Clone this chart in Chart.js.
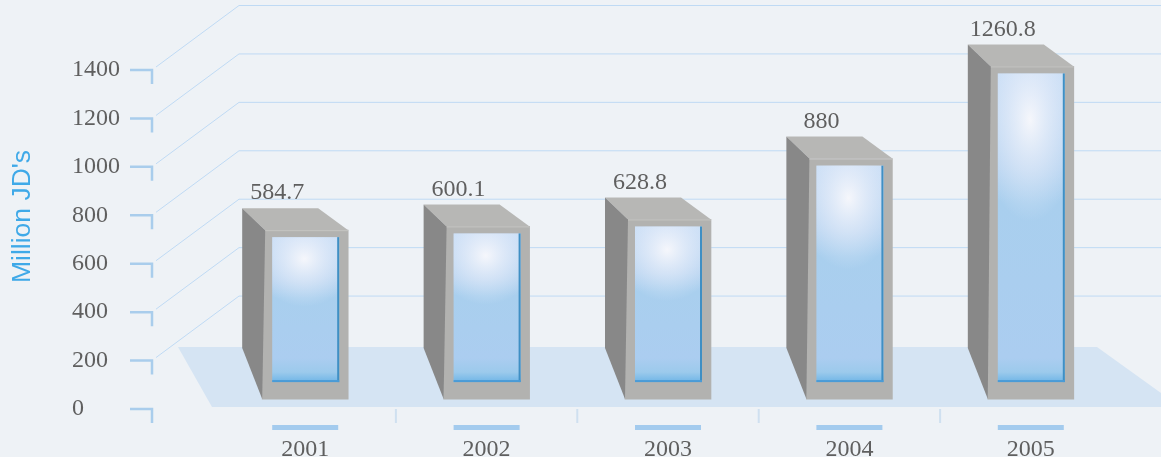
<!DOCTYPE html>
<html>
<head>
<meta charset="utf-8">
<script src="https://cdn.jsdelivr.net/npm/chart.js@4"></script>
<style>
html, body { margin: 0; padding: 0; background: #eef2f6; overflow: hidden; }
canvas { display: block; }
</style>
</head>
<body>
<canvas id="c" width="1161" height="457"></canvas>
<script>
const years = ['2001', '2002', '2003', '2004', '2005']
const values = [584.7, 600.1, 628.8, 880, 1260.8]
const yTitle = "Million JD's"

const serif = '"Liberation Serif", serif'
const textColor = '#5f5f5f'
const paleBlue = '#a9cdec'
const gridBlue = '#bfdaf4'

function poly(ctx, pts, fill) {
    ctx.beginPath()
    ctx.moveTo(pts[0][0], pts[0][1])
    for (let p of pts.slice(1)) ctx.lineTo(p[0], p[1])
    ctx.closePath()
    ctx.fillStyle = fill
    ctx.fill()
}

// floor, depth grid, axis hooks, separators and the axis title sit behind the bars
const backdrop = {
    id: 'backdrop',
    beforeDatasetsDraw(chart) {
        const ctx = chart.ctx, y = chart.scales.y, x = chart.scales.x
        const w = chart.width
        const floorTop = y.getPixelForValue(0) - 62
        const floorBottom = y.getPixelForValue(0) - 2
        poly(ctx, [[178, floorTop], [1097, floorTop], [w, floorTop + 46], [w, floorBottom], [212, floorBottom]], '#d5e4f3')

        y.ticks.forEach(t => {
            const py = y.getPixelForValue(t.value)
            ctx.strokeStyle = paleBlue
            ctx.lineWidth = 2.5
            ctx.beginPath()
            ctx.moveTo(130, py)
            ctx.lineTo(152, py)
            ctx.lineTo(152, py + 14)
            ctx.stroke()
            if (t.value === 0) return
            ctx.strokeStyle = gridBlue
            ctx.lineWidth = 1
            ctx.beginPath()
            ctx.moveTo(156, py - 3)
            ctx.lineTo(239, py - 64.5)
            ctx.lineTo(w, py - 64.5)
            ctx.stroke()
        })

        ctx.fillStyle = '#cfe0f0'
        for (let i = 1; i < years.length; i++) {
            const sx = (x.getPixelForValue(i - 1) + x.getPixelForValue(i)) / 2
            ctx.fillRect(sx - 1, 409, 2, 14)
        }

        ctx.save()
        ctx.translate(30, 216.5)
        ctx.rotate(-Math.PI / 2)
        ctx.font = '26.5px "Liberation Sans", sans-serif'
        ctx.fillStyle = '#3fa9e8'
        ctx.textAlign = 'center'
        ctx.textBaseline = 'alphabetic'
        ctx.fillText(yTitle, 0, 0)
        ctx.restore()
    }
}

function glass(ctx, l, t, r, b) {
    const wd = r - l, ht = b - t
    const g = ctx.createLinearGradient(0, t, 0, b)
    g.addColorStop(0, '#c6dcf5')
    g.addColorStop(0.3, '#b6d3f0')
    g.addColorStop(0.42, '#a9cfee')
    g.addColorStop(1 - 24 / ht, '#abcdf0')
    g.addColorStop(1 - 10 / ht, '#9ccaec')
    g.addColorStop(1, '#6fb5e6')
    ctx.fillStyle = g
    ctx.fillRect(l, t, wd, ht)

    // soft highlight high up in the pane
    ctx.save()
    ctx.beginPath()
    ctx.rect(l, t, wd, ht)
    ctx.clip()
    ctx.translate(l + wd * 0.48, t + ht * 0.15)
    ctx.scale(1, Math.max(0.85, ht * 0.22 / (wd * 0.5)))
    const h = ctx.createRadialGradient(0, 0, 0, 0, 0, wd * 0.75)
    h.addColorStop(0, 'rgba(255,252,253,0.85)')
    h.addColorStop(0.5, 'rgba(232,238,250,0.55)')
    h.addColorStop(1, 'rgba(225,235,250,0)')
    ctx.fillStyle = h
    ctx.fillRect(-wd, -ht, wd * 2, ht * 2)
    ctx.restore()

    ctx.fillStyle = '#3f8fc4'
    ctx.fillRect(r - 2, t, 2, ht)
    ctx.fillStyle = '#4a9bd6'
    ctx.fillRect(l, b - 2, wd, 2)
}

// the 3d faces follow each bar element, so they come from the same scale
const faces = {
    id: 'faces',
    afterDatasetsDraw(chart) {
        const ctx = chart.ctx
        const backBottom = 348
        chart.getDatasetMeta(0).data.forEach((bar, i) => {
            const l = bar.x - bar.width / 2, r = bar.x + bar.width / 2
            const top = bar.y, base = bar.base
            poly(ctx, [[l - 20, top - 22], [r - 30, top - 22], [r, top], [l + 3, top]], '#b7b7b5')
            poly(ctx, [[l - 20, top - 22], [l + 3, top], [l, base], [l - 20, backBottom]], '#888888')
            ctx.fillStyle = '#c4c4c2'
            ctx.fillRect(l + 3, top, bar.width - 3, 1)

            glass(ctx, l + 10, top + 7, r - 9, base - 17)

            ctx.fillStyle = '#a3cbee'
            ctx.fillRect(l + 10, 425, bar.width - 20, 5)

            ctx.font = '24px ' + serif
            ctx.fillStyle = textColor
            ctx.textAlign = 'center'
            ctx.textBaseline = 'middle'
            ctx.fillText(String(values[i]), bar.x - 28, top - 37)
        })
    }
}

new Chart(document.getElementById('c'), {
    type: 'bar',
    data: {
        labels: years,
        datasets: [{
            data: values,
            yAxisID: 'yFront',
            base: -113,
            barThickness: 86,
            backgroundColor: '#b2b2b0',
            borderWidth: 0,
            clip: false
        }]
    },
    options: {
        responsive: false,
        animation: false,
        layout: { padding: { left: 72, right: 39.5, top: 70, bottom: 0 } },
        plugins: { legend: { display: false }, tooltip: { enabled: false } },
        scales: {
            x: {
                grid: { display: false, drawTicks: false },
                border: { display: false },
                ticks: { color: textColor, font: { family: serif, size: 24 }, padding: 26, maxRotation: 0, autoSkip: false },
                afterFit(s) { s.height = 48 }
            },
            y: {
                min: 0,
                max: 1400,
                grid: { display: false, drawTicks: false },
                border: { display: false },
                ticks: { stepSize: 200, color: textColor, font: { family: serif, size: 24 }, crossAlign: 'far', callback: v => String(v) },
                afterFit(s) { s.width = 142.5 }
            },
            // same pixel span as y, shifted up: the front face stands forward of the axis plane
            yFront: { display: false, min: -154, max: 1246 }
        }
    },
    plugins: [backdrop, faces]
})
</script>
</body>
</html>
